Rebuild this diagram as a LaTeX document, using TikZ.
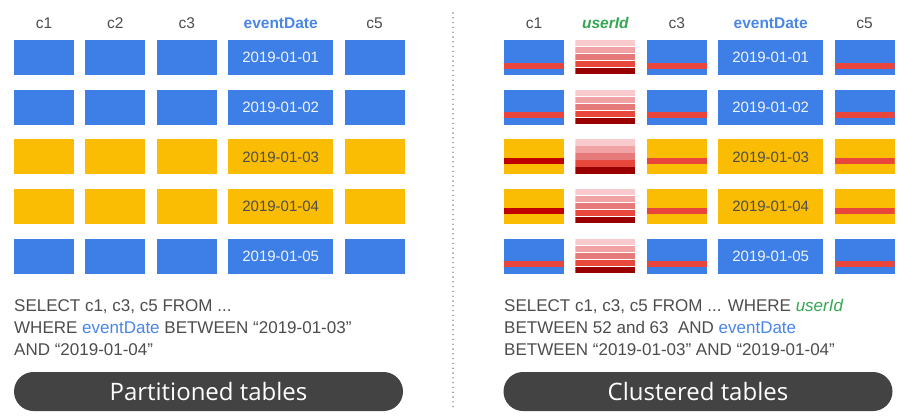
\documentclass[tikz,border=0pt]{standalone}
\usepackage{fontspec}
\setmainfont{Liberation Sans}
\newfontfamily\pillfont{Open Sans}
\usetikzlibrary{positioning}

\definecolor{cellblue}{HTML}{3D7FE6}
\definecolor{cellyellow}{HTML}{FBBC04}
\definecolor{stripered}{HTML}{E8453C}
\definecolor{stripedark}{HTML}{C00000}
\definecolor{uidA}{HTML}{F8CACE}
\definecolor{uidB}{HTML}{F0A2A5}
\definecolor{uidC}{HTML}{E67979}
\definecolor{uidD}{HTML}{E8473B}
\definecolor{uidE}{HTML}{990000}
\definecolor{textgray}{HTML}{4D4D4D}
\definecolor{datablue}{HTML}{4A86E8}
\definecolor{idgreen}{HTML}{34A853}
\definecolor{pillgray}{HTML}{434343}

\begin{document}
\begin{tikzpicture}[x=1pt,y=-1pt,node distance=11pt,
  cell/.style={inner sep=0pt,minimum width=60pt,minimum height=35pt,font=\fontsize{15}{15}\selectfont},
  datecell/.style={minimum width=105pt},
  bluecell/.style={cell,fill=cellblue,text=white!92!cellblue},
  yelcell/.style={cell,fill=cellyellow,text=textgray},
  lowstripe/.style={path picture={\fill[stripered] ([yshift=6.5pt]path picture bounding box.south west) rectangle ([yshift=12.5pt]path picture bounding box.south east);}},
  midstripe/.style={path picture={\fill[stripered] ([yshift=10pt]path picture bounding box.south west) rectangle ([yshift=16pt]path picture bounding box.south east);}},
  darkstripe/.style={path picture={\fill[stripedark] ([yshift=10pt]path picture bounding box.south west) rectangle ([yshift=16pt]path picture bounding box.south east);}},
  uidcell/.style={cell,fill=white,path picture={
    \foreach \k/\bandcol in {0/uidA,1/uidB,2/uidC,3/uidD,4/uidE}
      \fill[\bandcol] ([yshift={-7pt*\k}]path picture bounding box.north west) rectangle ([yshift={-7pt*\k-6.2pt}]path picture bounding box.north east);}},
  head/.style={inner sep=0pt,text height=11pt,text depth=0pt,text=textgray,font=\fontsize{15.5}{15.5}\selectfont},
  query/.style={anchor=base west,inner sep=0pt,text=textgray,font=\fontsize{17}{22}\selectfont},
  pill/.style={fill=pillgray,rounded corners=19.5pt,minimum width=389pt,minimum height=39pt,inner sep=0pt,text=white,font=\pillfont\fontsize{24}{24}\selectfont},
  divider/.style={draw=black!50,line width=1.6pt,line cap=round,dash pattern=on 0pt off 4.8pt}]

  \useasboundingbox (0,0) rectangle (915,418);
  \fill[white] (0,0) rectangle (915,418);

  % partitioned table
  \foreach \r/\k in {1/bluecell,2/bluecell,3/yelcell,4/yelcell,5/bluecell} {
    \node[\k] (p\r1) at (44,{57.5+49.7*(\r-1)}) {};
    \node[\k,right=of p\r1] (p\r2) {};
    \node[\k,right=of p\r2] (p\r3) {};
    \node[\k,datecell,right=of p\r3] (p\r4) {2019-01-0\r};
    \node[\k,right=of p\r4] (p\r5) {};
  }
  \node[head,above=10.7pt of p11] (ph1) {c1};
  \node[head,above=10.7pt of p12] (ph2) {c2};
  \node[head,above=10.7pt of p13] (ph3) {c3};
  \node[head,above=10.7pt of p14,text=datablue,font=\fontsize{15.5}{15.5}\selectfont\bfseries] (ph4) {eventDate};
  \node[head,above=10.7pt of p15] (ph5) {c5};

  \node[query] (pq1) at (14,311) {SELECT c1, c3, c5 FROM ...};
  \node[query] (pq2) at (14,333) {WHERE \textcolor{datablue}{eventDate} BETWEEN “2019-01-03”};
  \node[query] (pq3) at (14,355) {AND “2019-01-04”};
  \node[pill] (ppill) at (208.5,391.5) {Partitioned tables};

  % divider
  \coordinate (dtop) at (453,13);
  \coordinate (dbot) at (453,411);
  \draw[divider] (dtop) -- (dbot);

  % clustered table
  \foreach \r/\k/\s/\f in {1/bluecell/lowstripe/lowstripe,2/bluecell/lowstripe/lowstripe,
      3/yelcell/midstripe/darkstripe,4/yelcell/midstripe/darkstripe,5/bluecell/lowstripe/lowstripe} {
    \node[\k,\f] (k\r1) at (534,{57.5+49.7*(\r-1)}) {};
    \node[uidcell,right=of k\r1] (k\r2) {};
    \node[\k,\s,right=of k\r2] (k\r3) {};
    \node[\k,datecell,right=of k\r3] (k\r4) {2019-01-0\r};
    \node[\k,\s,right=of k\r4] (k\r5) {};
  }
  \node[head,above=10.7pt of k11] (kh1) {c1};
  \node[head,above=10.7pt of k12,text=idgreen,font=\fontsize{15.5}{15.5}\selectfont\bfseries\itshape] (kh2) {userId};
  \node[head,above=10.7pt of k13] (kh3) {c3};
  \node[head,above=10.7pt of k14,text=datablue,font=\fontsize{15.5}{15.5}\selectfont\bfseries] (kh4) {eventDate};
  \node[head,above=10.7pt of k15] (kh5) {c5};

  \node[query] (kq1) at (504,311) {SELECT c1, c3, c5 FROM ... WHERE \textcolor{idgreen}{\itshape userId}};
  \node[query] (kq2) at (504,333) {BETWEEN 52 and 63~~AND \textcolor{datablue}{eventDate}};
  \node[query] (kq3) at (504,355) {BETWEEN “2019-01-03” AND “2019-01-04”};
  \node[pill] (kpill) at (698,391.5) {Clustered tables};
\end{tikzpicture}
\end{document}
